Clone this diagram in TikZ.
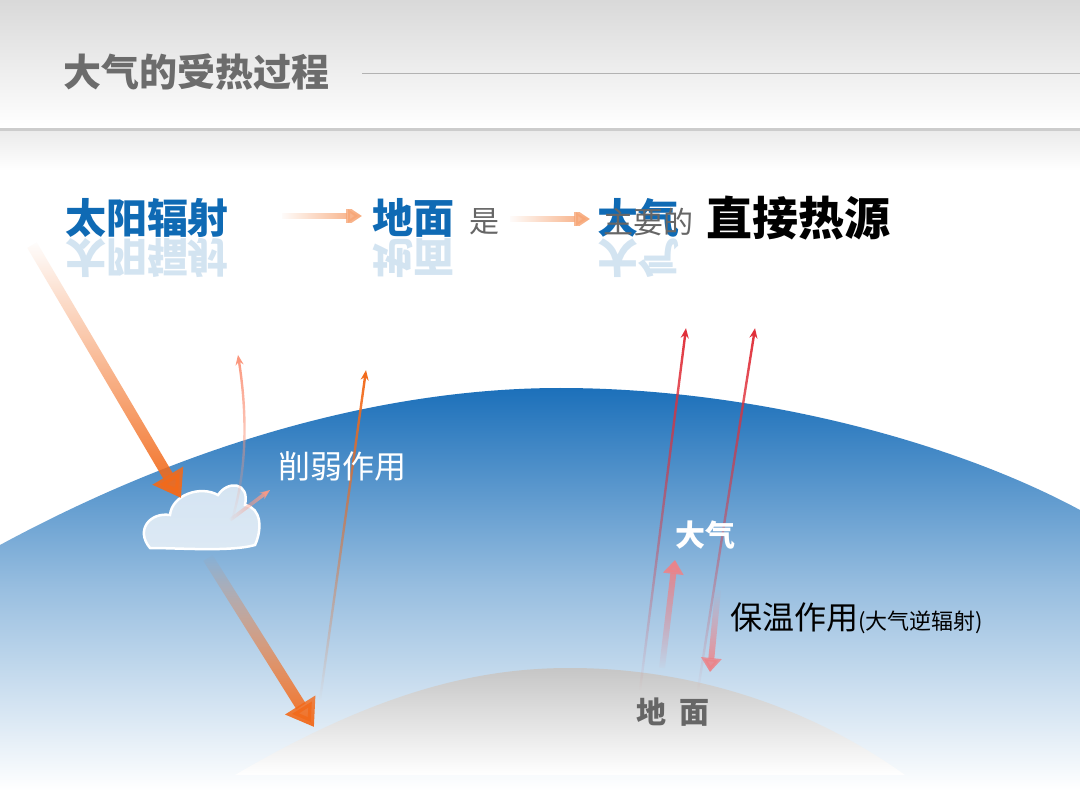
\documentclass[tikz,border=0pt]{standalone}
\usepackage{fontspec}
\setmainfont{Noto Sans CJK SC}
\usetikzlibrary{arrows.meta,fadings}
\definecolor{tblue}{HTML}{0F6AB4}
\definecolor{sky}{HTML}{1C70BA}
\definecolor{org}{HTML}{F26A1B}
\definecolor{rd}{HTML}{E0303A}
\tikzset{
 lbl/.style={inner sep=0pt, anchor=center},
 refl/.style={yscale=-1, opacity=0.18},
 bigarrow/.style={-{Triangle[length=26pt,width=34pt]}, line width=11pt, draw=org},
 thin/.style={-{Stealth[length=10pt,width=8pt]}, line width=2.4pt},
}
\begin{document}
\begin{tikzpicture}[x=1pt,y=-1pt]
\useasboundingbox (0,0) rectangle (1080,810);
\fill[white] (0,0) rectangle (1080,810);
% header band
\shade[top color=gray!30, bottom color=white] (0,0) rectangle (1080,128);
\fill[gray!40] (0,128) rectangle (1080,132);
\shade[top color=gray!15, bottom color=white] (0,132) rectangle (1080,170);
\draw[gray!60, line width=0.8pt] (362,73) -- (1080,73);
\node[lbl, anchor=west, text=gray!85!black, font=\fontsize{38}{38}\selectfont\bfseries] (title) at (63,72) {大气的受热过程};
% atmosphere dome
\shade[top color=sky, bottom color=white, middle color=sky!45]
 (0,545) .. controls (250,410) and (450,388) .. (560,388) .. controls (750,388) and (950,440) .. (1080,510) -- (1080,790) -- (0,790) -- cycle;
% ground dome
\shade[top color=gray!45, bottom color=white]
 (235,775) .. controls (380,690) and (480,668) .. (570,668) .. controls (680,668) and (800,700) .. (905,775) -- cycle;
% top row
\node[lbl, text=tblue, font=\fontsize{41}{41}\selectfont\bfseries] (sun) at (147,218) {太阳辐射};
\node[lbl, refl, text=tblue, font=\fontsize{41}{41}\selectfont\bfseries] (sunr) at (147,258) {太阳辐射};
\node[lbl, text=tblue, font=\fontsize{41}{41}\selectfont\bfseries] (gnd) at (413,218) {地面};
\node[lbl, refl, text=tblue, font=\fontsize{41}{41}\selectfont\bfseries] (gndr) at (413,258) {地面};
\node[lbl, text=gray!80!black, font=\fontsize{30}{30}\selectfont] (shi) at (484,222) {是};
\node[lbl, text=tblue, font=\fontsize{41}{41}\selectfont\bfseries] (air) at (638,218) {大气};
\node[lbl, refl, text=tblue, font=\fontsize{41}{41}\selectfont\bfseries] (airr) at (638,258) {大气};
\node[lbl, text=gray!80!black, font=\fontsize{30}{30}\selectfont] (zy) at (648,222) {主要的};
\node[lbl, anchor=west, text=black, font=\fontsize{46}{46}\selectfont\bfseries] (src) at (706,218) {直接热源};
\draw[-{Triangle[length=16pt,width=20pt]}, line width=6pt, draw=org!60, path fading=west] (282,216) -- (362,216);
\draw[-{Triangle[length=16pt,width=20pt]}, line width=6pt, draw=org!60, path fading=west] (510,219) -- (590,219);
% cloud
\draw[white, line width=2.5pt, fill=white!75!sky!20, fill opacity=0.8]
 (150,548) .. controls (135,530) and (150,512) .. (170,515)
 .. controls (172,495) and (200,485) .. (218,495)
 .. controls (228,480) and (250,482) .. (245,505)
 .. controls (262,508) and (262,530) .. (255,545)
 .. controls (230,552) and (180,548) .. cycle;
% incoming solar radiation
\draw[bigarrow, path fading=north] (32,245) -- (181,498);
\draw[bigarrow, path fading=north] (208,558) -- (314,727);
% reflected arrows
\draw[thin, draw=org!60!red!55, path fading=south] (232,520) .. controls (250,460) and (245,400) .. (238,355);
\draw[thin, draw=org!50!red!50, line width=3.5pt, path fading=west] (230,520) -- (270,490);
\draw[thin, draw=org, path fading=south] (320,700) -- (366,370);
\node[lbl, text=white, font=\fontsize{32}{32}\selectfont] (xr) at (342,466) {削弱作用};
% ground radiation
\draw[thin, draw=rd, path fading=south] (640,690) -- (686,328);
\draw[thin, draw=rd, path fading=south] (698,690) -- (755,328);
\draw[-{Triangle[length=14pt,width=20pt]}, line width=6pt, draw=rd!60, path fading=south] (662,668) -- (675,560);
\draw[-{Triangle[length=14pt,width=20pt]}, line width=6pt, draw=rd!60, path fading=north] (718,590) -- (710,672);
\node[lbl, text=white, font=\fontsize{30}{30}\selectfont\bfseries] (dq) at (705,535) {大气};
\node[lbl, anchor=west, text=black, font=\fontsize{32}{32}\selectfont] (bw) at (730,618) {保温作用{\fontsize{22}{22}\selectfont(大气逆辐射)}};
\node[lbl, text=gray!80!black, font=\fontsize{30}{30}\selectfont\bfseries] (dm) at (673,712) {地\ \ 面};
\end{tikzpicture}
\end{document}
